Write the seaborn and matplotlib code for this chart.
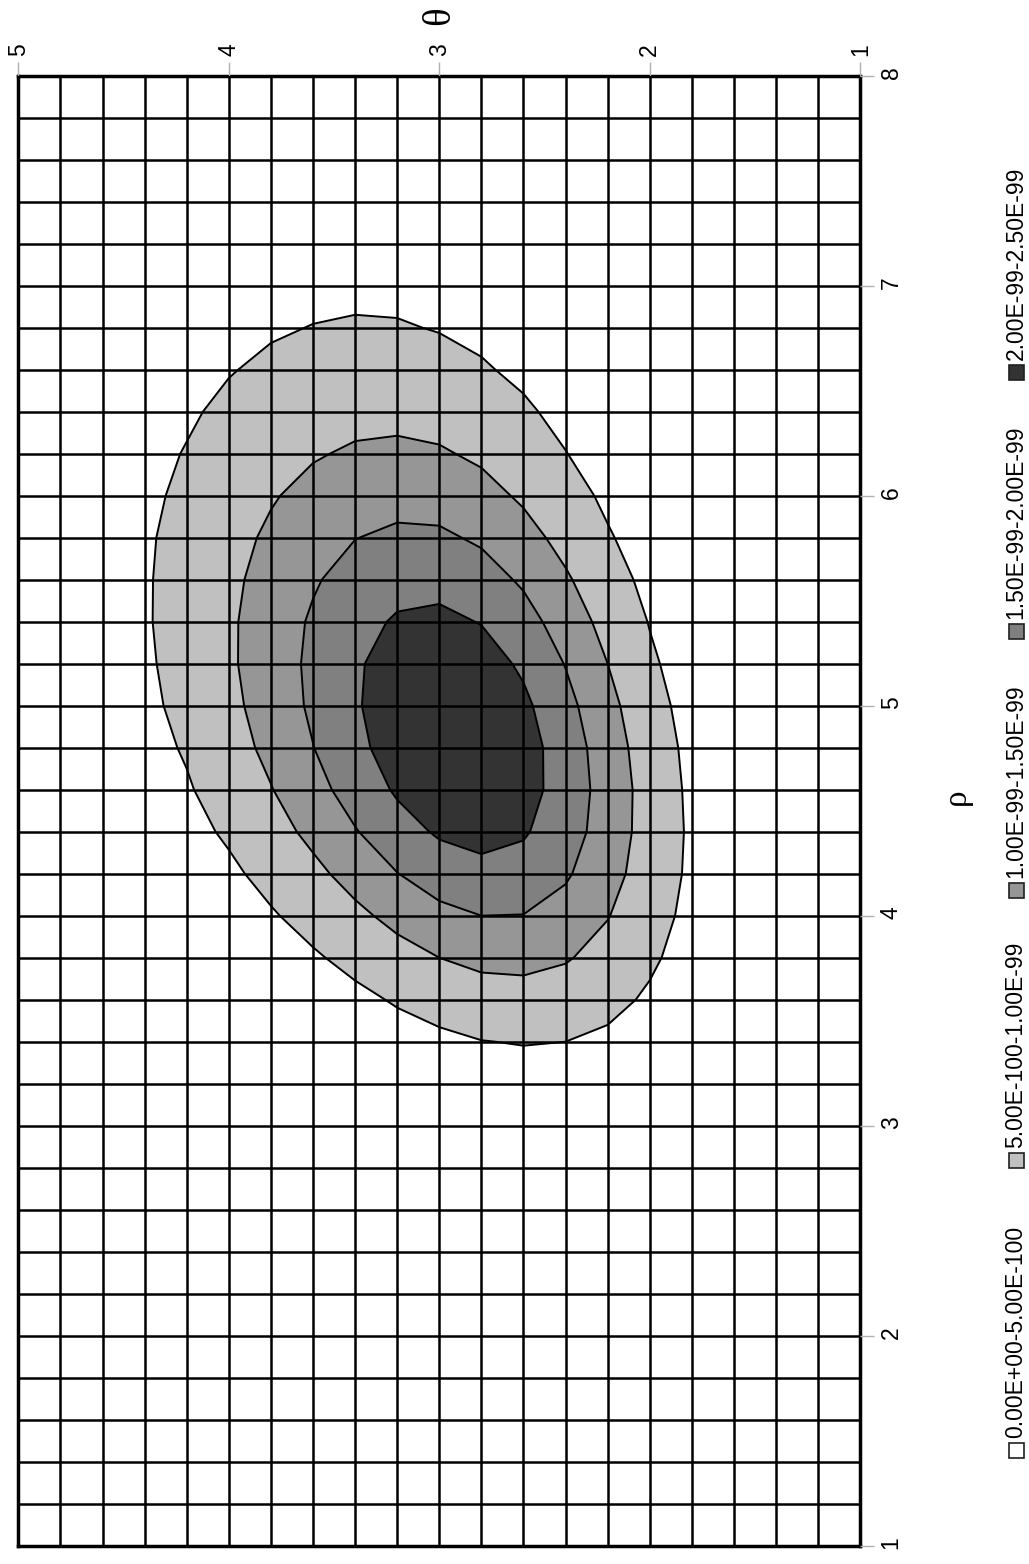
import numpy as np
import matplotlib
matplotlib.use("Agg")
import matplotlib.pyplot as plt
from matplotlib.patches import Rectangle
import seaborn as sns

# ---- data ----
# grid nodes (0.2 steps) covering the non-white region; outside it all values are < 5E-100
theta_vals = [1.8, 2.0, 2.2, 2.4, 2.6, 2.8, 3.0, 3.2, 3.4, 3.6, 3.8, 4.0, 4.2, 4.4]
rho_vals = [3.2, 3.4, 3.6, 3.8, 4.0, 4.2, 4.4, 4.6, 4.8, 5.0, 5.2, 5.4, 5.6, 5.8, 6.0,
            6.2, 6.4, 6.6, 6.8, 7.0]
# density in units of 1E-100, one row per rho value, columns follow theta_vals
density_rows = [
    [1.2, 2.0, 2.6, 3.0, 3.1, 2.8, 2.3, 1.8, 1.3, 0.9, 0.6, 0.4, 0.2, 0.1],
    [1.9, 3.1, 4.2, 5.0, 5.2, 4.9, 4.1, 3.3, 2.4, 1.7, 1.1, 0.7, 0.4, 0.3],
    [2.6, 4.4, 6.2, 7.6, 8.1, 7.8, 6.7, 5.4, 4.0, 2.9, 1.9, 1.2, 0.8, 0.5],
    [3.2, 5.7, 8.3, 10.4, 11.4, 11.2, 10.0, 8.2, 6.2, 4.5, 3.1, 2.0, 1.3, 0.8],
    [3.8, 6.8, 10.2, 13.2, 14.9, 15.0, 13.7, 11.4, 8.9, 6.5, 4.6, 3.0, 1.9, 1.2],
    [4.2, 7.6, 11.8, 15.6, 18.1, 18.6, 17.4, 14.9, 11.8, 8.8, 6.3, 4.2, 2.8, 1.7],
    [4.3, 8.0, 12.7, 17.3, 20.5, 21.6, 20.6, 18.1, 14.7, 11.2, 8.1, 5.6, 3.7, 2.3],
    [4.1, 8.0, 12.9, 18.0, 21.8, 23.6, 23.0, 20.6, 17.1, 13.3, 9.8, 6.9, 4.6, 3.0],
    [3.8, 7.5, 12.4, 17.7, 22.0, 24.3, 24.2, 22.1, 18.8, 14.9, 11.2, 8.0, 5.4, 3.6],
    [3.3, 6.7, 11.4, 16.5, 21.0, 23.7, 24.2, 22.6, 19.5, 15.8, 12.1, 8.8, 6.1, 4.1],
    [2.8, 5.7, 10.0, 14.8, 19.2, 22.2, 23.1, 22.0, 19.4, 16.0, 12.5, 9.3, 6.5, 4.4],
    [2.3, 4.8, 8.4, 12.7, 16.9, 19.8, 21.1, 20.5, 18.5, 15.6, 12.4, 9.3, 6.7, 4.6],
    [1.8, 3.8, 6.9, 10.6, 14.3, 17.1, 18.5, 18.4, 16.9, 14.5, 11.7, 9.0, 6.6, 4.6],
    [1.4, 3.0, 5.4, 8.5, 11.7, 14.3, 15.8, 15.9, 14.9, 13.0, 10.8, 8.4, 6.3, 4.5],
    [1.0, 2.3, 4.2, 6.7, 9.3, 11.6, 13.0, 13.4, 12.8, 11.4, 9.6, 7.6, 5.8, 4.2],
    [0.8, 1.7, 3.2, 5.1, 7.3, 9.2, 10.5, 10.9, 10.6, 9.6, 8.3, 6.7, 5.2, 3.9],
    [0.6, 1.2, 2.4, 3.9, 5.6, 7.1, 8.2, 8.8, 8.6, 8.0, 7.0, 5.8, 4.5, 3.4],
    [0.4, 0.9, 1.7, 2.9, 4.2, 5.4, 6.4, 6.9, 6.9, 6.5, 5.7, 4.8, 3.9, 3.0],
    [0.3, 0.7, 1.3, 2.1, 3.1, 4.1, 4.8, 5.3, 5.4, 5.1, 4.6, 4.0, 3.2, 2.5],
    [0.2, 0.5, 0.9, 1.5, 2.3, 3.0, 3.6, 4.0, 4.1, 4.0, 3.7, 3.2, 2.7, 2.1],
]
levels = [5, 10, 15, 20, 25]  # 1E-100 units
legend_labels = ['0.00E+00-5.00E-100', '5.00E-100-1.00E-99', '1.00E-99-1.50E-99',
                 '1.50E-99-2.00E-99', '2.00E-99-2.50E-99']
theta_ticks = [1, 2, 3, 4, 5]
rho_ticks = [1, 2, 3, 4, 5, 6, 7, 8]
theta_grid = [round(1 + 0.2 * k, 1) for k in range(21)]
rho_grid = [round(1 + 0.2 * k, 1) for k in range(36)]

# ---- styling ----
sns.set_theme(style="white")
plt.rcParams['font.family'] = ['Liberation Sans', 'DejaVu Sans']
fills = ['#c0c0c0', '#969696', '#808080', '#333333']

W, H = 1029, 1564
fig = plt.figure(figsize=(W / 100, H / 100), dpi=100)
x0, x1, y0, y1 = 18.3, 860.3, 75.7, 1545.7
ax = fig.add_axes([x0 / W, 1 - y1 / H, (x1 - x0) / W, (y1 - y0) / H])

Z = np.array(density_rows)
ax.contourf(theta_vals, rho_vals, Z, levels=levels, colors=fills)
ax.contour(theta_vals, rho_vals, Z, levels=levels[:-1], colors='black', linewidths=1.4)

ax.set_xlim(5, 1)
ax.set_ylim(1, 8)
ax.set_xticks(theta_ticks)
ax.set_yticks(rho_ticks)
ax.set_xticks(theta_grid, minor=True)
ax.set_yticks(rho_grid, minor=True)
ax.grid(which='both', color='black', linewidth=1.8)
ax.set_axisbelow(False)
ax.xaxis.tick_top()
ax.yaxis.tick_right()
ax.tick_params(which='major', length=10, width=1, color='#b0b0b0', labelsize=16.5,
               labelrotation=90, pad=4, labelcolor='black')
ax.tick_params(which='minor', length=0)
for s in ax.spines.values():
    s.set_color('black')
    s.set_linewidth(2.5)

# overlay in pixel coordinates for axis titles and the legend
lax = fig.add_axes([0, 0, 1, 1])
lax.set_xlim(0, W)
lax.set_ylim(H, 0)
lax.axis('off')
lax.text(440, 16, 'θ', rotation=90, ha='center', va='center', fontsize=28,
         family='Liberation Serif', color='black')
lax.text(957, 797, 'ρ', rotation=90, ha='center', va='center', fontsize=24,
         family='Liberation Serif', color='black')
lfill = ['#ffffff'] + fills
ycent = [1450, 1160, 890, 631, 372]
for lab, c, yc in zip(legend_labels, lfill, ycent):
    lax.add_patch(Rectangle((1008.5, yc - 7.5), 15, 15, facecolor=c,
                            edgecolor='#202020', lw=1.2))
    lax.text(1016, yc - 12, lab, rotation=90, ha='center', va='bottom',
             fontsize=16.5, color='black')

fig.savefig('out.png', dpi=100)
